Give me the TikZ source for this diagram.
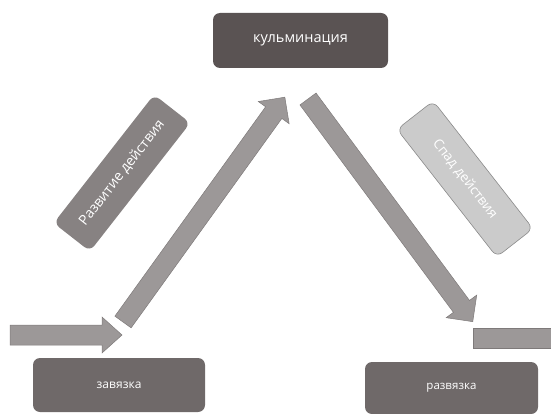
\documentclass[tikz,border=0pt]{standalone}
\usepackage{fontspec}
\setmainfont{Open Sans}
\definecolor{topbox}{HTML}{5A5353}
\definecolor{botbox}{HTML}{6F6969}
\definecolor{riseBox}{HTML}{878282}
\definecolor{fallBox}{HTML}{CBCBCB}
\definecolor{fallEdge}{HTML}{8A8A8A}
\definecolor{arrowgray}{HTML}{9C9898}
\definecolor{arrowedge}{HTML}{7E7A7A}
\begin{document}
\begin{tikzpicture}[x=1pt,y=1pt,
  stagebox/.style={rounded corners=7pt, text=white, inner sep=0pt, draw=none},
  blockarrow/.style={fill=arrowgray, draw=arrowedge, line width=0.5pt}]
\useasboundingbox (0,0) rectangle (551,413);
% stage boxes
\node[stagebox, fill=topbox, minimum width=175pt, minimum height=55pt, font=\fontsize{14.5}{16}\selectfont] (kulm) at (300.5,372.5) {кульминация};
\node[stagebox, fill=botbox, minimum width=172pt, minimum height=54pt, font=\fontsize{12}{14}\selectfont] (zav) at (119,28) {завязка};
\node[stagebox, fill=botbox, minimum width=173pt, minimum height=52pt, font=\fontsize{11.5}{14}\selectfont] (razv) at (451.5,25) {развязка};
\node[stagebox, fill=riseBox, rotate=52, minimum width=163pt, minimum height=46pt, font=\fontsize{14}{16}\selectfont] (rise) at (122,240) {Развитие действия};
\node[stagebox, fill=fallBox, draw=fallEdge, line width=0.6pt, rotate=-52, minimum width=162pt, minimum height=46pt, font=\fontsize{13.5}{16}\selectfont] (fall) at (465,234) {Спад действия};
% block arrows
\coordinate (inStart) at (10,78);
\coordinate (upStart) at (123,91);
\coordinate (downStart) at (308,314);
\begin{scope}[shift={(inStart)}]
  \draw[blockarrow] (0,-10) -- (92,-10) -- (92,-18) -- (112,0) -- (92,18) -- (92,10) -- (0,10) -- cycle;
\end{scope}
\begin{scope}[shift={(upStart)}, rotate=54.25]
  \draw[blockarrow] (0,-10) -- (258,-10) -- (258,-19) -- (277,0) -- (258,19) -- (258,10) -- (0,10) -- cycle;
\end{scope}
\begin{scope}[shift={(downStart)}, rotate=-53.5]
  \draw[blockarrow] (0,-10) -- (258,-10) -- (258,-19) -- (277,0) -- (258,19) -- (258,10) -- (0,10) -- cycle;
\end{scope}
\draw[blockarrow] (473,65) rectangle (560,85);
\end{tikzpicture}
\end{document}
